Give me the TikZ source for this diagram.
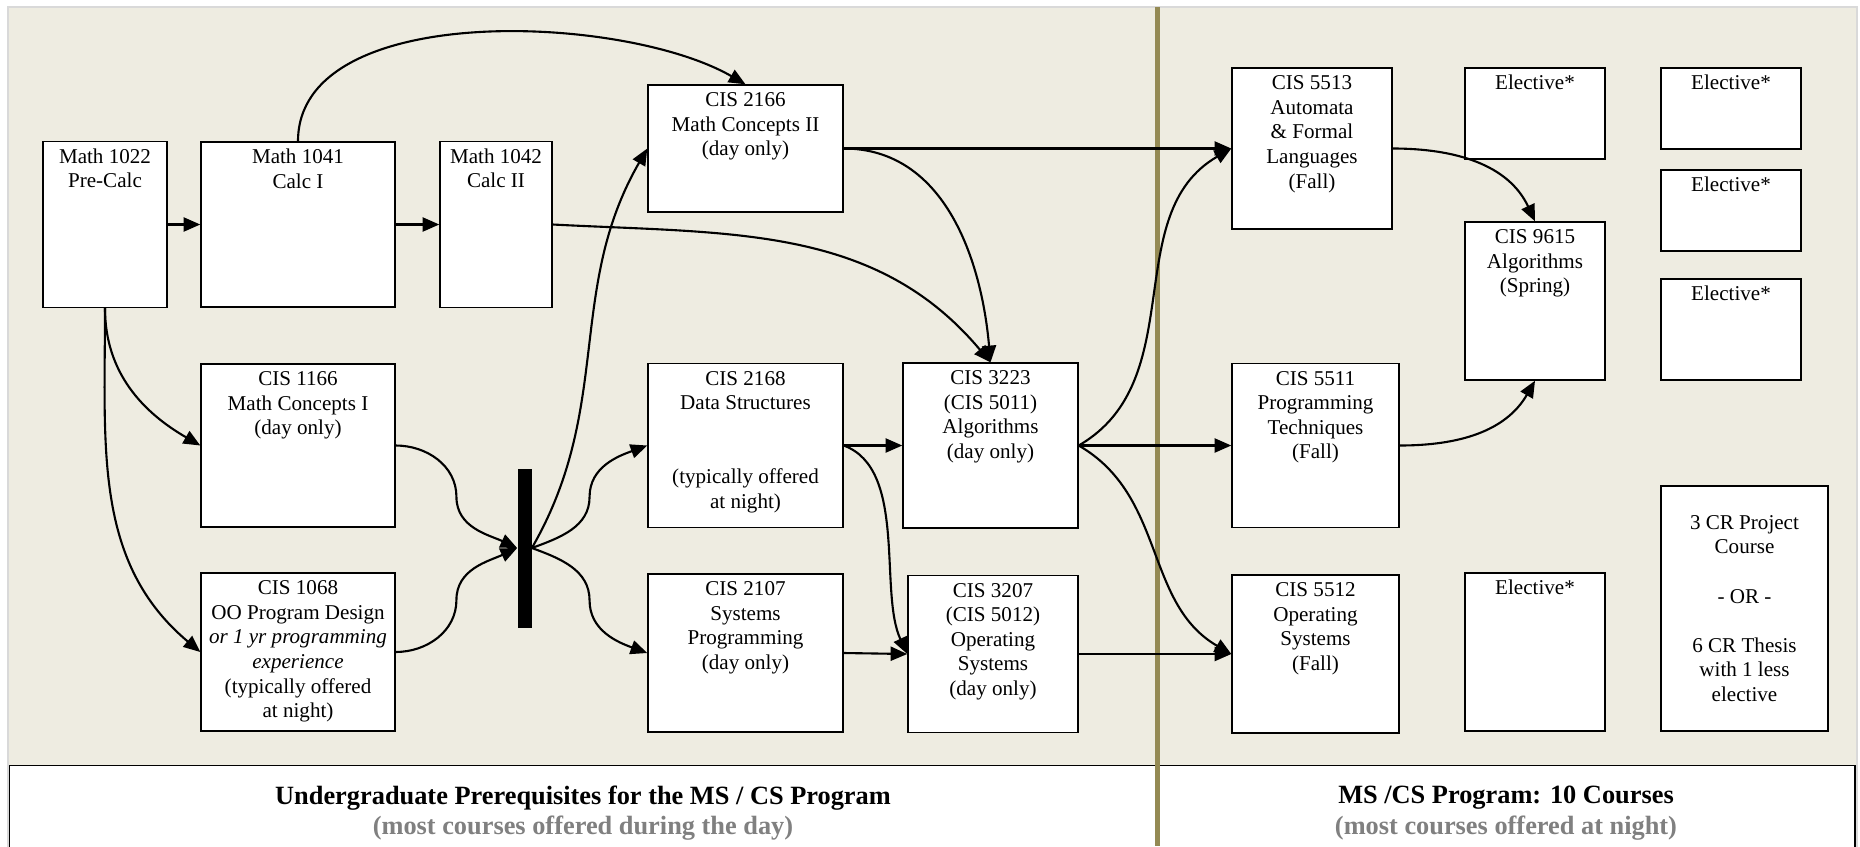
\documentclass[tikz,border=0pt]{standalone}
\usepackage{fontspec}
\setmainfont{Liberation Serif}
\usetikzlibrary{arrows.meta,calc}

\definecolor{tanbg}{HTML}{EEECE1}
\definecolor{olivebar}{HTML}{948A54}
\definecolor{framegray}{HTML}{D9D9D9}
\definecolor{capgray}{HTML}{808080}

\newdimen\pxu \pxu=0.02cm
\newcommand\crs[3]{\parbox[c][#2\pxu][t]{#1\pxu}{\centering\rule{0pt}{12.3pt}#3}}

\tikzset{
  course/.style={draw, fill=white, line width=0.8pt, inner sep=0pt, font=\fontsize{12}{14}\selectfont},
  arr/.style={-{Triangle[length=9.5pt,width=8pt]}, line width=1.2pt},
  capt/.style={align=center, font=\fontsize{15}{17.5}\selectfont\bfseries},
}

\begin{document}
\begin{tikzpicture}[x=0.02cm,y=0.02cm]
\useasboundingbox (0,0) rectangle (1860,-846);
\clip (0,0) rectangle (1860,-846);
\draw[framegray, fill=tanbg, line width=1.2pt] (8,-7) rectangle (1857,-900);
\draw[fill=white, line width=0.8pt] (9.5,-765.7) rectangle (1855,-900);
\draw[olivebar, line width=2.3pt] (1157.5,-7) -- (1157.5,-846);

% undergraduate side
\node[course] (m1022) at (105,-224.5) {\crs{124}{166}{Math 1022\\Pre-Calc}};
\node[course] (m1041) at (298,-224.5) {\crs{194}{165}{Math 1041\\Calc I}};
\node[course] (m1042) at (496,-224.5) {\crs{112}{166}{Math 1042\\Calc II}};
\node[course] (c2166) at (745.5,-148.5) {\crs{195}{127}{CIS 2166\\Math Concepts II\\(day only)}};
\node[course] (c1166) at (298,-445.5) {\crs{194}{163}{CIS 1166\\Math Concepts I\\(day only)}};
\node[course] (c1068) at (298,-652) {\crs{194}{158}{CIS 1068\\OO Program Design\\\textit{or 1 yr programming}\\\textit{experience}\\(typically offered\\at night)}};
\node[fill=black, inner sep=0pt, minimum width=14*0.02cm, minimum height=159*0.02cm] (bar) at (524.5,-548) {};
\node[course] (c2168) at (745.5,-445.5) {\crs{195}{164}{CIS 2168\\Data Structures\\~\\~\\(typically offered\\at night)}};
\node[course] (c2107) at (745.5,-653) {\crs{195}{158}{CIS 2107\\Systems\\Programming\\(day only)}};
\node[course] (c3223) at (990.5,-445.5) {\crs{175}{165}{CIS 3223\\(CIS 5011)\\Algorithms\\(day only)}};
\node[course] (c3207) at (993,-654) {\crs{170}{157}{CIS 3207\\(CIS 5012)\\Operating\\Systems\\(day only)}};

% graduate side
\node[course] (c5513) at (1312,-148.5) {\crs{160}{161}{CIS 5513\\Automata\\\& Formal\\Languages\\(Fall)}};
\node[course] (c5511) at (1315.5,-445.5) {\crs{167}{164}{CIS 5511\\Programming\\Techniques\\(Fall)}};
\node[course] (c5512) at (1315.5,-654) {\crs{167}{158}{CIS 5512\\Operating\\Systems\\(Fall)}};
\node[course] (c9615) at (1535,-301) {\crs{140}{158}{CIS 9615\\Algorithms\\(Spring)}};
\node[course] (el1) at (1535,-113.5) {\crs{140}{91}{Elective*}};
\node[course] (el2) at (1731,-108.5) {\crs{140}{81}{Elective*}};
\node[course] (el3) at (1731,-210.5) {\crs{140}{81}{Elective*}};
\node[course] (el4) at (1731,-329.5) {\crs{140}{101}{Elective*}};
\node[course] (el5) at (1535,-652) {\crs{140}{158}{Elective*}};
\node[course] (proj) at (1744.5,-608.5) {\parbox[c][245\pxu][c]{167\pxu}{\centering 3 CR Project\\Course\\~\\- OR -\\~\\6 CR Thesis\\with 1 less\\elective}};

\draw[arr] (m1022.east) -- (m1041.west);
\draw[arr] (m1041.east) -- (m1042.west);
\draw[arr] (m1041.north) to[out=90,in=150,looseness=0.8] (c2166.north);
\draw[arr] (m1022.south) to[out=-90,in=150] (c1166.west);
\draw[arr] (m1022.south) to[out=-90,in=140] (c1068.west);
\draw[arr] (c1166.east) to[out=0,in=90] ($(c1166.east)!.5!(bar.west)$) to[out=-90,in=155] (bar.west);
\draw[arr] (c1068.east) to[out=0,in=-90] ($(c1068.east)!.5!(bar.west)$) to[out=90,in=205] (bar.west);
\draw[arr] (bar.east) to[out=60,in=240] (c2166.west);
\draw[arr] (bar.east) to[out=20,in=-90] ($(bar.east)!.5!(c2168.west)$) to[out=90,in=200] (c2168.west);
\draw[arr] (bar.east) to[out=-20,in=90] ($(bar.east)!.5!(c2107.west)$) to[out=-90,in=160] (c2107.west);
\draw[arr] (c2166.east) -- (c5513.west);
\draw[arr] (c2166.east) to[out=0,in=95] (c3223.north);
\draw[arr] (m1042.east) to[out=-3,in=130] (c3223.north);
\draw[arr] (c2168.east) -- (c3223.west);
\draw[arr] (c2168.east) to[out=-20,in=115,looseness=0.8] (c3207.west);
\draw[arr] (c2107.east) -- (c3207.west);
\draw[arr] (c3223.east) to[out=30,in=210] (c5513.west);
\draw[arr] (c3223.east) -- (c5511.west);
\draw[arr] (c3223.east) to[out=-30,in=150] (c5512.west);
\draw[arr] (c3207.east) -- (c5512.west);
\draw[arr] (c5513.east) to[out=0,in=115] (c9615.north);
\draw[arr] (c5511.east) to[out=0,in=-120] (c9615.south);

\node[capt] (capl) at (583,-813) {Undergraduate Prerequisites for the MS / CS Program\\\textcolor{capgray}{(most courses offered during the day)}};
\node[capt] (capr) at (1506,-813) {MS /CS Program: 10 Courses\\\textcolor{capgray}{(most courses offered at night)}};
\end{tikzpicture}
\end{document}
